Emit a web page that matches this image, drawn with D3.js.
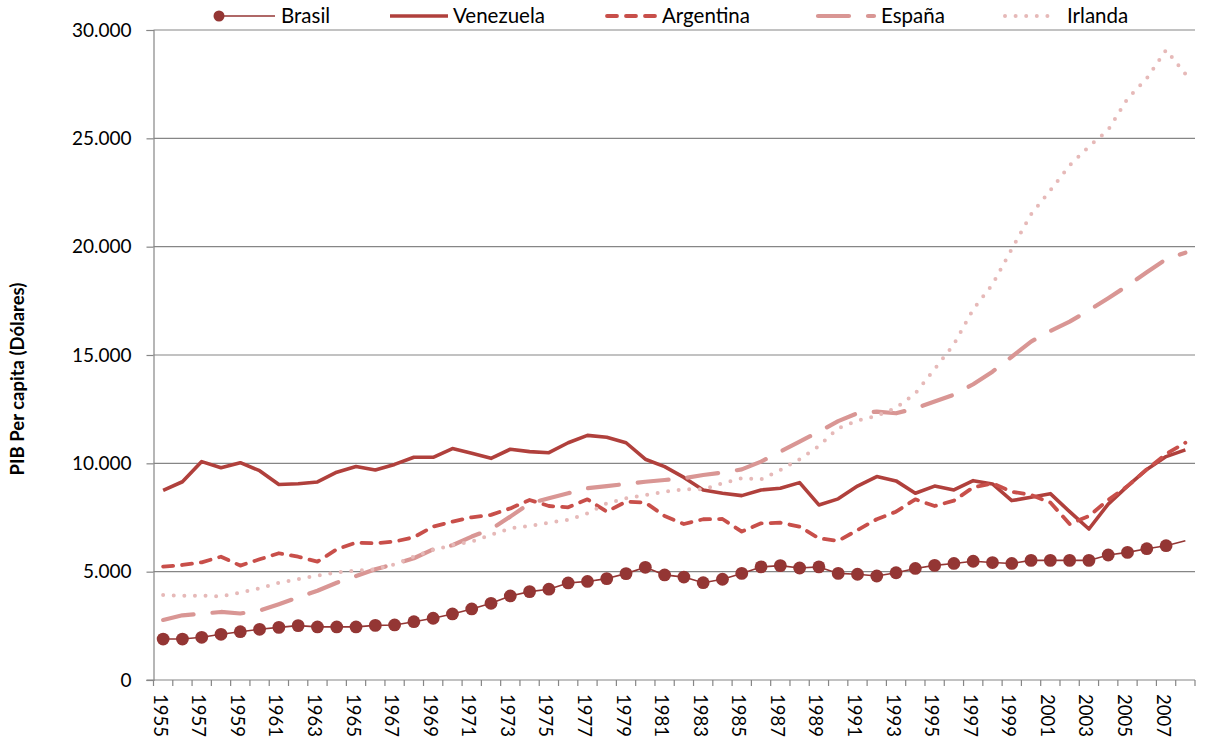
<!DOCTYPE html>
<html lang="es">
<head>
<meta charset="utf-8">
<title>PIB per capita</title>
<script src="https://d3js.org/d3.v7.min.js"></script>
<style>
body{margin:0;background:#fff;overflow:hidden;}
svg{display:block;font-family:Lato,"Open Sans",sans-serif;}
</style>
</head>
<body>
<svg id="chart" width="1205" height="742"></svg>
<script>
// categories (años) and labels on the x axis
var years = [1955,1956,1957,1958,1959,1960,1961,1962,1963,1964,1965,1966,1967,1968,1969,1970,
  1971,1972,1973,1974,1975,1976,1977,1978,1979,1980,1981,1982,1983,1984,1985,1986,1987,1988,
  1989,1990,1991,1992,1993,1994,1995,1996,1997,1998,1999,2000,2001,2002,2003,2004,2005,2006,2007,2008];
var yearLabels = [1955,1957,1959,1961,1963,1965,1967,1969,1971,1973,1975,1977,1979,1981,1983,
  1985,1987,1989,1991,1993,1995,1997,1999,2001,2003,2005,2007];
var yTicks = [0,5000,10000,15000,20000,25000,30000];

// PIB per capita
var brasil = [1890,1890,1970,2110,2230,2340,2430,2510,2450,2450,2450,2520,2540,2690,2850,3050,
  3280,3540,3880,4080,4190,4480,4550,4680,4910,5200,4850,4750,4490,4650,4920,5220,5280,5170,
  5220,4920,4880,4800,4950,5150,5290,5380,5480,5420,5380,5520,5520,5520,5520,5770,5890,6060,6200,6430];
var venezuela = [8750,9150,10080,9800,10030,9660,9020,9060,9140,9590,9850,9690,9950,10280,10280,10680,
  10460,10230,10650,10540,10490,10950,11290,11200,10950,10190,9850,9350,8770,8620,8510,8770,8850,9110,
  8080,8360,8950,9390,9190,8620,8950,8770,9200,9050,8280,8430,8600,7770,6970,8120,8950,9720,10310,10620];
var argentina = [5230,5310,5430,5690,5280,5570,5850,5690,5460,6030,6340,6310,6390,6590,7080,7310,
  7510,7620,7920,8310,8030,7970,8340,7770,8230,8190,7570,7200,7420,7430,6850,7230,7260,7080,
  6540,6420,6920,7420,7770,8340,8030,8280,8890,9080,8690,8540,8190,7200,7570,8310,8950,9720,10430,10950];
var espana = [2770,2985,3060,3140,3070,3200,3500,3810,4120,4490,4800,5110,5350,5620,6030,6220,
  6620,6960,7540,8150,8390,8620,8850,8950,9050,9150,9230,9310,9460,9570,9720,10080,10540,11000,
  11460,11950,12310,12390,12310,12540,12850,13170,13650,14230,14920,15620,16110,16540,17060,17620,18200,18820,19420,19720];
var irlanda = [3920,3890,3890,3860,4030,4230,4490,4650,4820,4970,5050,5110,5340,5690,6000,6230,
  6390,6700,7000,7110,7260,7390,7690,8150,8390,8540,8690,8800,8800,9080,9310,9260,9690,10190,
  10800,11620,11970,12190,12560,13230,14350,15490,17110,18260,19890,21490,22600,23750,24620,25390,26830,27770,29080,27970];

var seriesNames = ["Brasil","Venezuela","Argentina","España","Irlanda"];
var seriesValues = [brasil, venezuela, argentina, espana, irlanda];

var styles = {
  "Brasil":    {color:"#943634", width:1.6, dash:null},
  "Venezuela": {color:"#b0403c", width:3.6, dash:null},
  "Argentina": {color:"#c84f4a", width:3.8, dash:"10,9"},
  "España":    {color:"#d99694", width:4.2, dash:"31,19"},
  "Irlanda":   {color:"#e6b9b8", width:4,   dash:"0,10.6"}
};

var svg = d3.select("#chart");
var plotLeft = 153.5, plotRight = 1195, plotTop = 30, plotBottom = 680;
var gridColor = "#868686";

var x = d3.scaleBand().domain(years).range([plotLeft, plotRight]).padding(0);
var y = d3.scaleLinear().domain([0, 30000]).range([plotBottom, plotTop]);
var cx = function(yr){ return x(yr) + x.bandwidth()/2; };

var es = d3.formatLocale({decimal:",", thousands:".", grouping:[3], currency:["",""]});
var fmt = es.format(",d");

// gridlines
svg.append("g").selectAll("line")
  .data(yTicks.filter(function(d){ return d > 0; }))
  .enter().append("line")
    .attr("x1", plotLeft).attr("x2", plotRight)
    .attr("y1", function(d){ return y(d); }).attr("y2", function(d){ return y(d); })
    .attr("stroke", gridColor).attr("stroke-width", 1.2);

// y axis
var yAxis = svg.append("g")
  .attr("transform", "translate(" + plotLeft + ",0)")
  .call(d3.axisLeft(y).tickValues(yTicks).tickSize(7).tickPadding(15).tickFormat(fmt));
yAxis.select(".domain").attr("stroke", gridColor).attr("stroke-width", 1.2);
yAxis.selectAll(".tick line").attr("stroke", gridColor).attr("stroke-width", 1.2);
yAxis.selectAll(".tick text").attr("font-size", "19px").attr("fill", "#000")
  .attr("font-family", "Lato, 'Open Sans', sans-serif");

// x axis line and tick marks between categories
var xg = svg.append("g");
xg.append("line").attr("x1", plotLeft - 7).attr("x2", plotRight)
  .attr("y1", plotBottom).attr("y2", plotBottom)
  .attr("stroke", gridColor).attr("stroke-width", 1.2);
xg.selectAll("line.tk")
  .data(years.map(function(d){ return x(d); }).concat([x.range()[1]]))
  .enter().append("line").attr("class", "tk")
    .attr("x1", function(d){ return d; }).attr("x2", function(d){ return d; })
    .attr("y1", plotBottom).attr("y2", plotBottom + 6)
    .attr("stroke", gridColor).attr("stroke-width", 1.2);
xg.selectAll("text")
  .data(yearLabels)
  .enter().append("text")
    .attr("transform", function(d){ return "translate(" + (cx(d) - 3) + "," + (plotBottom + 14) + ") rotate(90)"; })
    .attr("dy", "0.35em")
    .attr("font-size", "18.5px")
    .attr("fill", "#000")
    .text(function(d){ return d; });

// y axis title
svg.append("text")
  .attr("transform", "translate(24,379) rotate(-90)")
  .attr("text-anchor", "middle")
  .attr("font-size", "18.5px")
  .attr("font-weight", "bold")
  .attr("fill", "#000")
  .text("PIB Per capita (Dólares)");

// series
var line = d3.line()
  .x(function(d, i){ return cx(years[i]); })
  .y(function(d){ return y(d); });

seriesNames.forEach(function(name, k){
  var s = styles[name];
  var p = svg.append("path")
    .datum(seriesValues[k])
    .attr("d", line)
    .attr("fill", "none")
    .attr("stroke", s.color)
    .attr("stroke-width", s.width)
    .attr("stroke-linejoin", "round")
    .attr("stroke-linecap", s.dash ? "round" : "butt");
  if (s.dash) p.attr("stroke-dasharray", s.dash);
  if (name == "Brasil") {
    // markers on every point except the last one, as in the original
    svg.append("g").selectAll("circle")
      .data(seriesValues[k].slice(0, -1))
      .enter().append("circle")
        .attr("cx", function(d, i){ return cx(years[i]); })
        .attr("cy", function(d){ return y(d); })
        .attr("r", 6.4)
        .attr("fill", s.color);
  }
});

// legend
var legendPos = [
  {name:"Brasil",    x1:219, x2:275, tx:281},
  {name:"Venezuela", x1:390, x2:448, tx:453},
  {name:"Argentina", x1:607, x2:655, tx:662},
  {name:"España",    x1:818, x2:874, tx:881},
  {name:"Irlanda",   x1:1005,x2:1058,tx:1067}
];
var lg = svg.append("g");
legendPos.forEach(function(l){
  var s = styles[l.name];
  var ln = lg.append("line")
    .attr("x1", l.x1).attr("x2", l.x2).attr("y1", 16).attr("y2", 16)
    .attr("stroke", s.color).attr("stroke-width", s.width)
    .attr("stroke-linecap", s.dash ? "round" : "butt");
  if (s.dash) ln.attr("stroke-dasharray", s.dash);
  if (l.name == "Brasil") {
    lg.append("circle").attr("cx", l.x1).attr("cy", 16).attr("r", 5.5).attr("fill", s.color);
  }
  lg.append("text")
    .attr("x", l.tx).attr("y", 16).attr("dy", "0.36em")
    .attr("font-size", "20.5px").attr("fill", "#000")
    .text(l.name);
});
</script>
</body>
</html>
